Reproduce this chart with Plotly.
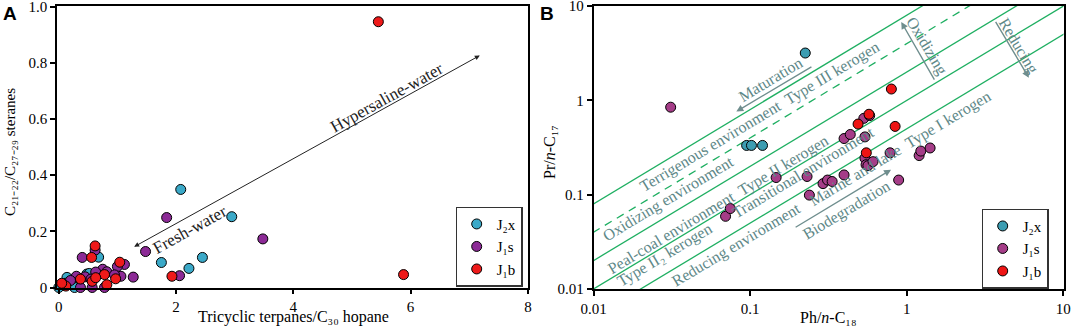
import plotly.graph_objects as go

# ---------------- Panel A data ----------------
a_j2x_x = [2.08, 2.95, 1.75, 2.22, 2.45, 0.68, 0.48, 0.23, 0.14, 0.11, 0.00, 0.27, 0.52]
a_j2x_y = [0.349, 0.252, 0.089, 0.068, 0.107, 0.108, 0.048, 0.027, 0.036, 0.015, 0.0, 0.0, 0.05]

a_j1s_x = [1.84, 3.48, 1.48, 0.40, 0.62, 1.12, 1.00, 1.06, 1.27, 2.06, 0.75, 0.82, 0.63, 0.95,
           0.57, 0.78, 0.37, 0.30, 0.45, 0.20, 0.08, 0.55]
a_j1s_y = [0.249, 0.173, 0.128, 0.107, 0.133, 0.082, 0.075, 0.040, 0.037, 0.042, 0.065, 0.056,
           0.055, 0.045, 0.0, 0.0, 0.0, 0.040, 0.038, 0.025, 0.010, 0.030]

a_j1b_x = [5.45, 5.88, 0.62, 0.56, 1.04, 0.97, 1.93, 0.78, 0.82, 0.57, 0.37, 0.63, 0.12, 0.05]
a_j1b_y = [0.946, 0.046, 0.148, 0.107, 0.090, 0.031, 0.040, 0.046, 0.010, 0.022, 0.030, 0.035,
           0.005, 0.015]

a_xticks = [0, 2, 4, 6, 8]
a_yticks = [0, 0.2, 0.4, 0.6, 0.8, 1.0]
a_yticklabels = ["0", "0.2", "0.4", "0.6", "0.8", "1.0"]

# ---------------- Panel B data ----------------
b_j2x_x = [0.225, 0.095, 0.102, 0.120]
b_j2x_y = [3.18, 0.333, 0.333, 0.333]

b_j1s_x = [0.0311, 0.0697, 0.0747, 0.1466, 0.231, 0.239, 0.292, 0.312, 0.334, 0.398, 0.398,
           0.436, 0.541, 0.532, 0.541, 0.550, 0.565, 0.609, 0.580, 0.783, 0.888, 1.20, 1.23, 1.41]
b_j1s_y = [0.847, 0.059, 0.0713, 0.152, 0.156, 0.099, 0.131, 0.143, 0.138, 0.162, 0.394,
           0.435, 0.410, 0.645, 0.244, 0.208, 0.203, 0.224, 0.690, 0.278, 0.143, 0.260, 0.290, 0.313]

b_j1b_x = [0.798, 0.489, 0.574, 0.843, 0.552]
b_j1b_y = [1.32, 0.561, 0.713, 0.530, 0.278]

b_ticks = [0.01, 0.1, 1, 10]
b_ticklabels = ["0.01", "0.1", "1", "10"]

# Pr/n-C17 : Ph/n-C18 ratio lines (solid, dashed)
b_line_ratios = [8, 4, 2, 1, 0.5]
b_line_dashed = [False, True, False, False, False]
b_line_x = [0.001, 100]

# ---------------- styles ----------------
SERIF = "Liberation Serif"
A_COL = {"J2x": "#3BA9C8", "J1s": "#8C2A96", "J1b": "#EE1A1A"}
B_COL = {"J2x": "#3C9DB2", "J1s": "#A53D88", "J1b": "#EE1414"}
NAMES = {"J2x": "J\u2082x", "J1s": "J\u2081s", "J1b": "J\u2081b"}
GREEN = "#1FAF62"
NOTE = "#5E8888"

fig = go.Figure()

def add_pts(x, y, key, cols, xa, ya, legend):
    fig.add_trace(go.Scatter(
        x=x, y=y, mode="markers", name=NAMES[key], xaxis=xa, yaxis=ya, legend=legend,
        marker=dict(size=10, color=cols[key], line=dict(color="black", width=1)),
        cliponaxis=False))

for r, d in zip(b_line_ratios, b_line_dashed):
    fig.add_trace(go.Scatter(
        x=b_line_x, y=[r * v for v in b_line_x], mode="lines", xaxis="x2", yaxis="y2",
        showlegend=False, hoverinfo="skip",
        line=dict(color=GREEN, width=1.3, dash="8px,6px" if d else "solid")))

add_pts(a_j2x_x, a_j2x_y, "J2x", A_COL, "x", "y", "legend")
add_pts(a_j1s_x, a_j1s_y, "J1s", A_COL, "x", "y", "legend")
add_pts(a_j1b_x, a_j1b_y, "J1b", A_COL, "x", "y", "legend")
add_pts(b_j2x_x, b_j2x_y, "J2x", B_COL, "x2", "y2", "legend2")
add_pts(b_j1s_x, b_j1s_y, "J1s", B_COL, "x2", "y2", "legend2")
add_pts(b_j1b_x, b_j1b_y, "J1b", B_COL, "x2", "y2", "legend2")

W, H = 1072, 326
ax_common = dict(showline=True, linecolor="black", linewidth=1.6, mirror=True, ticks="outside",
                 ticklen=5, tickwidth=1.5, tickcolor="black", showgrid=False, zeroline=False,
                 automargin=False, ticklabeloverflow="allow",
                 tickfont=dict(family=SERIF, size=15, color="black"))
ydom = [1 - 287.5 / H, 1 - 6 / H]

fig.update_layout(
    width=W, height=H, autosize=False, margin=dict(l=0, r=0, t=0, b=0, pad=0),
    paper_bgcolor="white", plot_bgcolor="white",
    font=dict(family=SERIF, size=15, color="black"),
    xaxis=dict(domain=[57 / W, 528 / W], range=[-0.03, 8.002], tickvals=a_xticks, anchor="y", **ax_common),
    yaxis=dict(domain=ydom, range=[0, 1.002], tickvals=a_yticks, ticktext=a_yticklabels, anchor="x", **ax_common),
    xaxis2=dict(domain=[593.5 / W, 1063.5 / W], type="log", range=[-2, 1.001], tickvals=b_ticks,
                ticktext=b_ticklabels, anchor="y2", **ax_common),
    yaxis2=dict(domain=[1 - 289 / H, 1 - 6 / H], type="log", range=[-2, 1.001], tickvals=b_ticks,
                ticktext=b_ticklabels, anchor="x2", **ax_common),
    legend=dict(x=522.5 / W, y=1 - 286.5 / H, xanchor="right", yanchor="bottom",
                bordercolor="#333", borderwidth=1.2, bgcolor="white", itemwidth=30,
                font=dict(family=SERIF, size=15), tracegroupgap=0),
    legend2=dict(x=1048.5 / W, y=1 - 288.5 / H, xanchor="right", yanchor="bottom",
                 bordercolor="#333", borderwidth=1.2, bgcolor="white", itemwidth=30,
                 font=dict(family=SERIF, size=15), tracegroupgap=0),
)

C = dict(xanchor="center", yanchor="middle", showarrow=False)
ann = []
ann.append(dict(text="<b>A</b>", x=10 / W, y=1 - 13.5 / H, xref="paper", yref="paper",
                font=dict(family="Liberation Sans", size=19, color="black"), **C))
ann.append(dict(text="<b>B</b>", x=547 / W, y=1 - 13.5 / H, xref="paper", yref="paper",
                font=dict(family="Liberation Sans", size=19, color="black"), **C))
ann.append(dict(text="Tricyclic terpanes/C\u2083\u2080 hopane", x=293 / W, y=1 - 317 / H, xref="paper",
                yref="paper", font=dict(family=SERIF, size=16), **C))
ann.append(dict(text="C\u2082\u2081\u208b\u2082\u2082/C\u2082\u2087\u208b\u2082\u2089 steranes", x=10 / W,
                y=1 - 152 / H, xref="paper", yref="paper", textangle=-90,
                font=dict(family=SERIF, size=15), **C))
ann.append(dict(text="Ph/<i>n</i>-C\u2081\u2088", x=828 / W, y=1 - 317 / H, xref="paper",
                yref="paper", font=dict(family=SERIF, size=16), **C))
ann.append(dict(text="Pr/<i>n</i>-C\u2081\u2087", x=549 / W, y=1 - 152 / H, xref="paper",
                yref="paper", textangle=-90, font=dict(family=SERIF, size=16), **C))

ann.append(dict(x=7.18, y=0.826, ax=1.26, ay=0.142, xref="x", yref="y", axref="x", ayref="y",
                text="", showarrow=True, arrowhead=2, arrowside="end+start", arrowsize=1,
                arrowwidth=1, arrowcolor="#222"))
ann.append(dict(text="Hypersaline-water", x=5.6, y=0.675, xref="x", yref="y",
                textangle=-29, font=dict(family=SERIF, size=17, color="#222"), **C))
ann.append(dict(text="Fresh-water", x=2.24, y=0.207, xref="x", yref="y",
                textangle=-29, font=dict(family=SERIF, size=17, color="#222"), **C))

b_texts = [
    ("Terrigenous environment  Type III kerogen", -0.94, -0.179, -31),
    ("Oxidizing environment", -1.522, -1.05, -31),
    ("Peal-coal environment  Type II kerogen", -1.207, -1.104, -31),
    ("Type II\u2082 kerogen", -1.544, -1.642, -31),
    ("Transitional environment", -0.664, -0.763, -31),
    ("Reducing environment", -1.088, -1.534, -31),
    ("Marine and lake  Type I kerogen", -0.046, -0.513, -31),
    ("Maturation", -0.871, 0.222, -31),
    ("Biodegradation", -0.382, -1.158, -31),
    ("Oxidizing", 0.128, 0.581, 59),
    ("Reducing", 0.714, 0.581, 59),
]
for t, lx, ly, ang in b_texts:
    ann.append(dict(text=t, x=lx, y=ly, xref="x2", yref="y2", textangle=ang,
                    font=dict(family=SERIF, size=16, color=NOTE), **C))

b_arrows = [
    (-1.088, -0.118, -0.599, 0.366),
    (-0.100, -0.735, -0.719, -1.355),
    (-0.035, 0.832, 0.182, 0.204),
    (0.780, 0.240, 0.562, 0.849),
]
for hx, hy, tx, ty in b_arrows:
    ann.append(dict(x=hx, y=hy, ax=tx, ay=ty, xref="x2", yref="y2", axref="x2", ayref="y2",
                    text="", showarrow=True, arrowhead=2, arrowsize=1, arrowwidth=1.4,
                    arrowcolor="#6F8E8E"))

fig.update_layout(annotations=ann)
fig.write_html("out.html", config={"displayModeBar": False},
               post_script="document.body.style.margin='0';document.body.style.overflow='hidden';")
